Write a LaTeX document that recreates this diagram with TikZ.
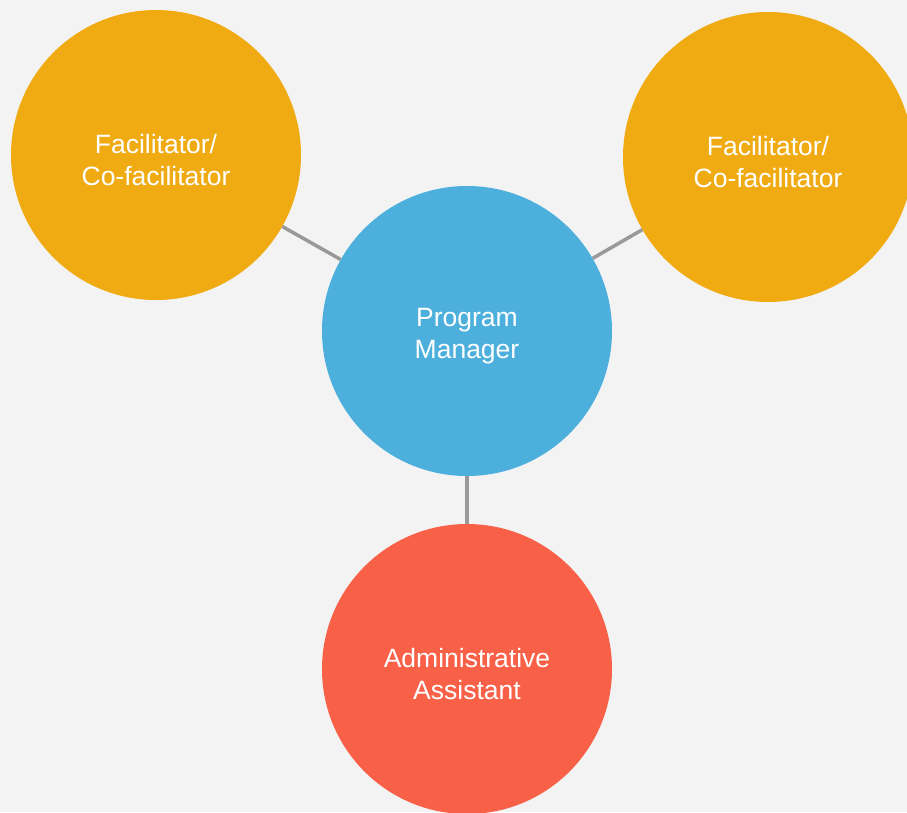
\documentclass[tikz,border=0pt]{standalone}
\usepackage{fontspec}
\setmainfont{Liberation Sans}
\definecolor{fond}{HTML}{F3F3F3}
\definecolor{orange}{HTML}{F0AB13}
\definecolor{bleu}{HTML}{4DAFDC}
\definecolor{rouge}{HTML}{F86148}
\definecolor{trait}{HTML}{999999}
\tikzset{
  rond/.style={circle,minimum size=290pt,inner sep=0pt},
  texte/.style={text=white,align=center,yshift=-5pt,
    font=\fontsize{26.5}{32}\selectfont},
  lien/.style={draw=trait,line width=3.5pt}
}
\begin{document}
\begin{tikzpicture}[x=1pt,y=-1pt]
    \fill[fond] (0,0) rectangle (907,812);
    \useasboundingbox (0,0) rectangle (907,812);
    % les cercles
    \node[rond,fill=orange,label={[texte]center:{Facilitator/\\Co-facilitator}}] (facg) at (156,155) {};
    \node[rond,fill=orange,label={[texte]center:{Facilitator/\\Co-facilitator}}] (facd) at (768,157) {};
    \node[rond,fill=bleu,label={[texte]center:{Program\\Manager}}] (pm) at (467,331) {};
    \node[rond,fill=rouge,label={[texte]center:{Administrative\\Assistant}}] (aa) at (467,669) {};
    % les liens
    \draw[lien] (facg) -- (pm);
    \draw[lien] (facd) -- (pm);
    \draw[lien] (pm) -- (aa);
\end{tikzpicture}
\end{document}
